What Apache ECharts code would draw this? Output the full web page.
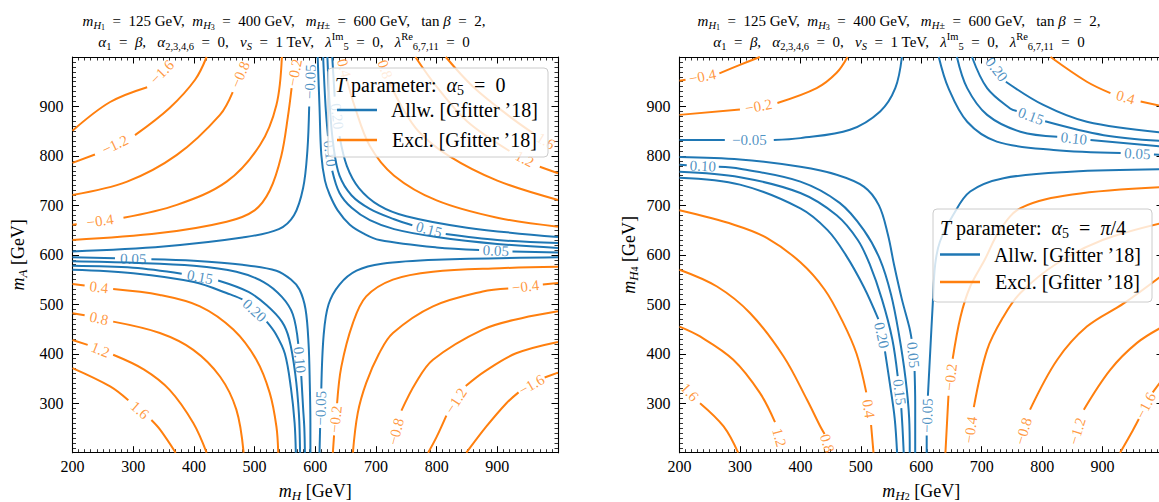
<!DOCTYPE html>
<html><head><meta charset="utf-8">
<script src="https://cdn.jsdelivr.net/npm/echarts@6/dist/echarts.min.js"></script>
<style>html,body{margin:0;padding:0;background:#fff}#c{width:1159px;height:502px}</style>
</head><body><div id="c"></div>
<script>
// ---------------- data ----------------
// x / y in GeV; null marks the place where the inline contour label sits
const TICKS_X = [200, 300, 400, 500, 600, 700, 800, 900];
const TICKS_Y = [300, 400, 500, 600, 700, 800, 900];

// left panel (alpha5 = 0): x = m_H, y = m_A
const L_m16 = [[200,851],[262,909],[323,939],null,[372,1000]];
const L_m12 = [[200,786],[237,803],null,[303,842],[360,897],[402,954],[421,1000]];
const L_m08 = [[200,721],[290,748],[372,802],[443,883],[464,929],null,[489,1000]];
const L_m04 = [[200,661],[207,662],null,[284,675],[372,701],[454,748],[509,822],[536,903],[545,1000]];
const L_m02 = [[200,630],[344,644],[454,667],[500,690],[525,730],[544,800],[555,880],[561,937],null,[571,1000]];
const L_m005 = [[200,607],[350,617],[480,635],[540,652],[565,680],[580,735],[587,810],[590,900],null,[593,1000]];
const L_p04 = [[643,1000],null,[652,955],[665,900],[690,820],[730,760],[800,710],[900,675],[1000,657]];
const L_p08 = [[708,1000],null,[722,950],[740,905],[770,850],[820,800],[900,750],[1000,711]];
const L_p12 = [[765,1000],[800,940],[850,870],[920,810],null,[970,778],[1000,765]];
const L_p16 = [[815,1000],[860,940],[920,880],[960,845],null,[1000,815]];
const L_p005 = [[604,1000],[607,900],[610,802],[616,750],[624,721],[637,690],[657,661],[680,643],[706,630],[800,615],[870,610],null,[925,607],[1000,605]];
const L_p010 = [[613,1000],[617,900],[621,840],null,[628,770],[640,725],[660,695],[690,670],[730,652],[800,636],[900,622],[1000,614]];
const L_p015 = [[620,1000],[624,900],[630,820],[640,760],[660,720],[690,693],[730,672],[760,660],null,[815,642],[900,630],[1000,624]];
const L_p020 = [[628,1000],[632,920],null,[640,840],[652,780],[672,735],[705,700],[750,678],[850,655],[1000,636]];
const L_m005b = [[607,200],[608,250],null,[610,330],[614,440],[622,500],[640,540],[668,568],[710,582],[800,590],[1000,595]];
const L_m02b = [[629,200],[631,235],null,[636,300],[643,374],[662,462],[684,516],[728,550],[794,566],[904,573],[1000,576]];
const L_m04b = [[662,200],[670,280],[684,341],[705,400],[728,442],[794,496],[876,526],[918,532],null,[975,540],[1000,543]];
const L_m08b = [[724,200],null,[742,285],[765,340],[794,388],[876,449],[940,472],[1000,486]];
const L_m12b = [[786,200],[800,232],[816,275],null,[848,335],[880,365],[931,401],[1000,424]];
const L_m16b = [[849,200],[882,253],[915,300],[935,322],null,[978,352],[1000,362]];
const L_p005c = [[200,595],[270,593],null,[330,591],[400,588],[480,580],[536,568],[560,550],[574,530],[584,490],[589,420],[591,340],[592,260],[592,200]];
const L_p010c = [[200,587],[300,584],[400,578],[470,566],[515,545],[545,515],[563,480],[572,420],null,[577,355],[580,290],[582,250],[583,200]];
const L_p015c = [[200,578],[300,574],[380,562],null,[440,548],[490,525],[520,498],[545,465],[557,430],[567,360],[573,280],[575,200]];
const L_p020c = [[200,570],[300,563],[400,545],[460,520],[480,510],null,[520,465],[535,440],[550,400],[560,330],[566,260],[568,200]];
const L_p04c = [[200,541],[220,538],null,[267,531],[344,519],[410,496],[465,449],[503,388],[525,321],[536,253],[539,200]];
const L_p08c = [[200,482],[220,478],null,[267,465],[344,442],[399,408],[443,354],[470,287],[482,200]];
const L_p12c = [[200,428],[225,418],null,[267,398],[318,368],[360,327],[399,260],[421,200]];
const L_p16c = [[200,371],[262,334],[292,306],null,[330,266],[344,247],[370,200]];

const leftLevels = [-1.6,-1.2,-0.8,-0.4,-0.2,-0.05, 0.4,0.8,1.2,1.6, 0.05,0.10,0.15,0.20,
  -0.05,-0.2,-0.4,-0.8,-1.2,-1.6, 0.05,0.10,0.15,0.20, 0.4,0.8,1.2,1.6];
const leftLines = [L_m16,L_m12,L_m08,L_m04,L_m02,L_m005, L_p04,L_p08,L_p12,L_p16, L_p005,L_p010,L_p015,L_p020,
  L_m005b,L_m02b,L_m04b,L_m08b,L_m12b,L_m16b, L_p005c,L_p010c,L_p015c,L_p020c, L_p04c,L_p08c,L_p12c,L_p16c];

// right panel (alpha5 = pi/4): x = m_H2, y = m_H4
const R_m04 = [[200,952],[210,954],null,[266,967],[300,984],[333,1000]];
const R_m02 = [[200,883],[300,894],null,[362,907],[427,937],[460,968],[478,1000]];
const R_m005 = [[200,832],[275,832],null,[356,832],[400,836],[482,853],[532,890],[557,937],[568,1000]];
const R_p04 = [[814,1000],[874,950],[913,927],null,[963,910],[1000,900]];
const R_p005 = [[629,1000],[645,937],[676,869],[725,829],[819,812],[930,806],null,[985,803],[1000,802]];
const R_p010 = [[659,1000],[676,937],[709,883],[764,849],[825,839],null,[880,832],[1000,819]];
const R_p015 = [[684,1000],[709,937],[747,896],[758,891],null,[805,870],[902,842],[1000,830]];
const R_p020 = [[709,1000],null,[740,950],[802,903],[874,869],[1000,847]];
const R_m005b = [[609,200],[609,235],null,[611,315],[615,408],[619,500],[623,580],[631,627],[653,681],[681,728],[736,755],[847,768],[1000,773]];
const R_p005c = [[200,798],[300,793],[400,778],[460,762],[505,738],[530,700],[545,640],[555,580],[568,510],[580,455],[584,430],null,[589,365],[590,300],[590,200]];
const R_p010c = [[200,782],[212,781],null,[265,778],[300,774],[400,748],[465,705],[505,650],[532,590],[550,520],[563,440],[574,350],[580,270],[581,200]];
const R_p015c = [[200,768],[300,757],[400,725],[460,680],[495,630],[515,580],[535,510],[552,430],[561,355],null,[567,290],[569,250],[571,200]];
const R_p020c = [[200,756],[300,742],[400,694],[445,650],[475,600],[505,535],[529,470],null,[540,405],[548,340],[556,270],[560,200]];
const R_p04c = [[200,690],[290,661],[345,634],[400,585],[440,530],[470,465],[493,400],[509,322],null,[517,256],[521,200]];
const R_p08c = [[200,570],[262,536],[317,482],[372,395],[411,307],[433,253],[440,238],null,[449,200]];
const R_p12c = [[200,455],[234,435],[289,388],[333,321],[358,262],null,[372,200]];
const R_p16c = [[200,345],null,[234,300],[273,253],[297,200]];
const R_m02b = [[640,200],[645,315],null,[652,390],[665,475],[681,536],[705,590],[730,650],[765,695],[850,722],[1000,737]];
const R_m04b = [[676,200],null,[687,292],[709,408],[736,475],[764,523],[825,583],[900,630],[1000,665]];
const R_m08b = [[758,200],null,[780,287],[825,388],[874,455],[935,502],[1000,560]];
const R_m12b = [[847,200],null,[869,287],[913,368],[957,422],[1000,455]];
const R_m16b = [[929,200],[950,245],[960,268],null,[983,322],[1000,350]];

const rightLevels = [-0.4,-0.2,-0.05, 0.4, 0.05,0.10,0.15,0.20, -0.05, 0.05,0.10,0.15,0.20,
  0.4,0.8,1.2,1.6, -0.2,-0.4,-0.8,-1.2,-1.6];
const rightLines = [R_m04,R_m02,R_m005, R_p04, R_p005,R_p010,R_p015,R_p020, R_m005b,
  R_p005c,R_p010c,R_p015c,R_p020c, R_p04c,R_p08c,R_p12c,R_p16c, R_m02b,R_m04b,R_m08b,R_m12b,R_m16b];

// ---------------- chart ----------------
const SERIF = "'Liberation Serif','DejaVu Serif',serif";
const BLUE = '#1f77b4', ORANGE = '#ff7f0e';
const ALLW = "Allw. [Gfitter \u201918]", EXCL = "Excl. [Gfitter \u201918]";
const EN = '\u2002';

const chart = echarts.init(document.getElementById('c'), null, {renderer: 'svg', width: 1159, height: 502});

function isAllowed(l) { return l > -0.1 && l < 0.3; }
function fmt(l) {
  const s = isAllowed(l) ? Math.abs(l).toFixed(2) : Math.abs(l).toFixed(1);
  return (l < 0 ? '\u2212' : '') + s;
}

const lineSeries = [];
const labelItems = [[], []];
function build(levels, lines, gi) {
  lines.forEach((pts, k) => {
    const lv = levels[k], al = isAllowed(lv), col = al ? BLUE : ORANGE;
    lineSeries.push({
      type: 'line', name: al ? ALLW : EXCL, xAxisIndex: gi * 2, yAxisIndex: gi * 2,
      data: pts.map(p => p ? p : ['-', '-']), smooth: 0.35, showSymbol: false, symbol: 'none',
      connectNulls: false, lineStyle: {color: col, width: 2}, itemStyle: {color: col},
      silent: true, z: 2, clip: true, animation: false
    });
    const g = pts.indexOf(null);
    if (g > 0 && g < pts.length - 1) labelItems[gi].push({a: pts[g - 1], b: pts[g + 1], text: fmt(lv), color: col});
  });
}
build(leftLevels, leftLines, 0);
build(rightLevels, rightLines, 1);

const grids = [
  {left: 72.5, top: 57, width: 485.5, height: 395.7, outerBoundsMode: 'none'},
  {left: 679.5, top: 57, width: 483.5, height: 395.7, outerBoundsMode: 'none'}
];

const nameRich = {
  i: {fontStyle: 'italic', fontSize: 18, fontFamily: SERIF, lineHeight: 22},
  s: {fontStyle: 'italic', fontSize: 13, fontFamily: SERIF, verticalAlign: 'bottom', lineHeight: 12},
  ss: {fontSize: 10, fontFamily: SERIF, verticalAlign: 'bottom', lineHeight: 6}
};

function mkAxis(gi, pos, showLabels, name, nameGap, ticks) {
  const ax = {
    type: 'value', gridIndex: gi, position: pos, min: 200, max: 1000, interval: 100,
    axisLine: {show: true, onZero: false, lineStyle: {color: '#000', width: 1.1}},
    axisTick: {show: true, inside: true, length: 6.5, lineStyle: {color: '#000', width: 1}},
    minorTick: {show: true, splitNumber: 10, length: 3.5, lineStyle: {color: '#000', width: 0.8}},
    splitLine: {show: false}, minorSplitLine: {show: false},
    axisLabel: {show: false}, axisPointer: {show: false}
  };
  if (showLabels) {
    const isX = (pos === 'bottom');
    ax.axisLabel = {
      show: true, color: '#000', fontFamily: SERIF, fontSize: 16, margin: isX ? 6 : 9,
      showMinLabel: true, showMaxLabel: true, hideOverlap: false,
      formatter: v => ticks.includes(v) ? String(v) : ''
    };
    ax.name = name;
    ax.nameLocation = 'middle';
    ax.nameGap = nameGap;
    ax.nameTextStyle = {color: '#000', fontFamily: SERIF, fontSize: 18, lineHeight: 22, rich: nameRich};
  }
  return ax;
}

const xAxes = [
  mkAxis(0, 'bottom', true, '{i|m}{s|H} [GeV]', 27, TICKS_X),
  mkAxis(0, 'top', false),
  mkAxis(1, 'bottom', true, '{i|m}{s|H}{ss|2} [GeV]', 27, TICKS_X),
  mkAxis(1, 'top', false)
];
const yAxes = [
  mkAxis(0, 'left', true, '{i|m}{s|A} [GeV]', 44, TICKS_Y),
  mkAxis(0, 'right', false),
  mkAxis(1, 'left', true, '{i|m}{s|H}{ss|4} [GeV]', 40, TICKS_Y),
  mkAxis(1, 'right', false)
];

const titleRich = {
  i: {fontStyle: 'italic', fontFamily: SERIF, fontSize: 15, lineHeight: 21},
  s: {fontFamily: SERIF, fontSize: 10.5, verticalAlign: 'bottom', lineHeight: 10},
  si: {fontStyle: 'italic', fontFamily: SERIF, fontSize: 10.5, verticalAlign: 'bottom', lineHeight: 10},
  ss: {fontFamily: SERIF, fontSize: 8, verticalAlign: 'bottom', lineHeight: 5},
  sup: {fontFamily: SERIF, fontSize: 10.5, verticalAlign: 'top', lineHeight: 9}
};
const EQ = EN + '=' + EN;
const TITLE1 = '{i|m}{si|H}{ss|1}' + EQ + '125 GeV,' + EN + '{i|m}{si|H}{ss|3}' + EQ + '400 GeV,' + EN +
  ' {i|m}{si|H\u00b1}' + EQ + '600 GeV,' + EN + ' tan {i|\u03b2}' + EQ + '2,';
const TITLE2 = '{i|\u03b1}{s|1}' + EQ + '{i|\u03b2},' + EN + ' {i|\u03b1}{s|2,3,4,6}' + EQ + '0,' + EN +
  ' {i|v}{si|S}' + EQ + '1 TeV,' + EN + ' {i|\u03bb}{sup|Im}{s|5}' + EQ + '0,' + EN +
  ' {i|\u03bb}{sup|Re}{s|6,7,11}' + EQ + '0';

const legRich = {
  i: {fontStyle: 'italic', fontFamily: SERIF, fontSize: 20},
  s: {fontFamily: SERIF, fontSize: 14, verticalAlign: 'bottom', lineHeight: 12}
};

function legendBox(x, y, w, h, tx, ty, text) {
  return [
    {type: 'rect', z: 50, silent: true, shape: {x: x, y: y, width: w, height: h, r: 4},
      style: {fill: 'rgba(255,255,255,0.8)', stroke: '#cccccc', lineWidth: 1}},
    {type: 'text', z: 110, silent: true, x: tx, y: ty,
      style: {text: text, fill: '#000', fontFamily: SERIF, fontSize: 20, lineHeight: 24,
        align: 'left', verticalAlign: 'middle', rich: legRich}}
  ];
}

const graphics = [
  {type: 'text', z: 10, silent: true, x: 284, y: 10,
    style: {text: TITLE1 + '\n' + TITLE2, fill: '#000', fontFamily: SERIF, fontSize: 15, lineHeight: 21,
      align: 'center', verticalAlign: 'top', rich: titleRich}},
  {type: 'text', z: 10, silent: true, x: 899, y: 10,
    style: {text: TITLE1 + '\n' + TITLE2, fill: '#000', fontFamily: SERIF, fontSize: 15, lineHeight: 21,
      align: 'center', verticalAlign: 'top', rich: titleRich}}
].concat(
  legendBox(328, 68, 220, 89, 335, 85, '{i|T} parameter:  {i|\u03b1}{s|5}' + EQ + '0'),
  legendBox(933, 209, 219, 93, 940, 228, '{i|T} parameter:  {i|\u03b1}{s|5}' + EQ + '{i|\u03c0}/4')
);

function mkLegend(left, top, gap) {
  return {
    left: left, top: top, orient: 'vertical', padding: 0, itemGap: gap, z: 100,
    data: [ALLW, EXCL], icon: 'rect', itemWidth: 40, itemHeight: 2.5, selectedMode: false,
    formatter: n => '  ' + n,
    textStyle: {color: '#000', fontFamily: SERIF, fontSize: 20, lineHeight: 20}
  };
}

chart.setOption({
  animation: false,
  backgroundColor: '#fff',
  grid: grids,
  xAxis: xAxes,
  yAxis: yAxes,
  legend: [mkLegend(337, 100, 10), mkLegend(940, 244.5, 7.5)],
  graphic: {elements: graphics},
  series: lineSeries
});

const labelSeries = [0, 1].map(gi => ({
  type: 'scatter', xAxisIndex: gi * 2, yAxisIndex: gi * 2, symbolSize: 1, silent: true, z: 3,
  itemStyle: {color: 'transparent'}, animation: false,
  data: labelItems[gi].map(it => {
    const pa = chart.convertToPixel({xAxisIndex: gi * 2, yAxisIndex: gi * 2}, it.a);
    const pb = chart.convertToPixel({xAxisIndex: gi * 2, yAxisIndex: gi * 2}, it.b);
    let ang = Math.atan2(-(pb[1] - pa[1]), pb[0] - pa[0]) * 180 / Math.PI;
    if (ang > 90) ang -= 180;
    if (ang < -90) ang += 180;
    return {
      value: [(it.a[0] + it.b[0]) / 2, (it.a[1] + it.b[1]) / 2],
      label: {show: true, position: 'inside', formatter: it.text, rotate: ang,
        color: it.color, fontSize: 15, fontFamily: SERIF}
    };
  })
}));

chart.setOption({series: lineSeries.concat(labelSeries)});
</script></body></html>
